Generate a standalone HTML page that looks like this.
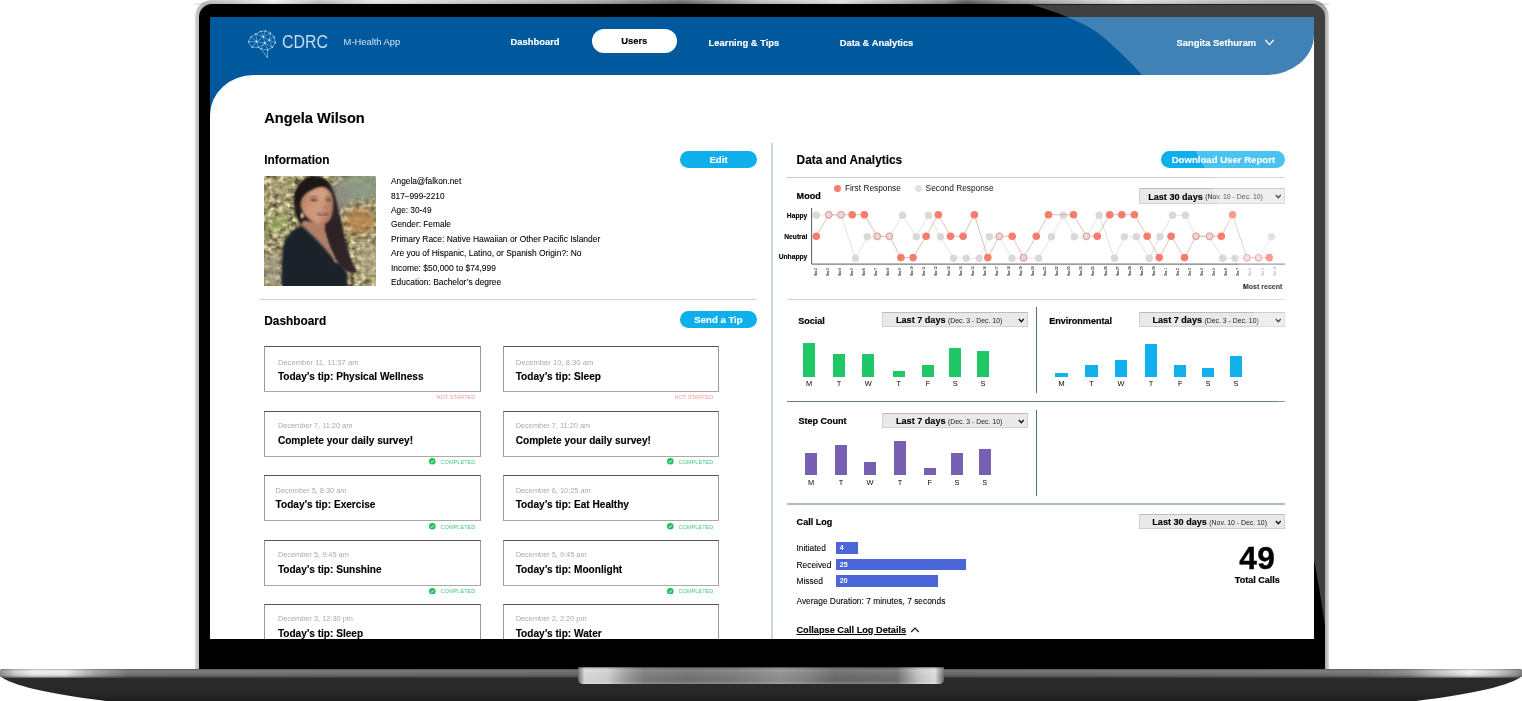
<!DOCTYPE html>
<html lang="en">
<head>
<meta charset="utf-8">
<title>CDRC M-Health App – User: Angela Wilson</title>
<style>
*{box-sizing:border-box}
html,body{margin:0;padding:0;background:#fff}
body{width:1522px;height:701px;position:relative;overflow:hidden;font-family:"Liberation Sans",sans-serif;color:#111;-webkit-font-smoothing:antialiased}
.abs,.t,.bar,.day,.card,.stat,.sel,.btn,.hl,.vl{position:absolute}
.t{line-height:0;white-space:nowrap;color:#000}
.sq{display:inline-block}
.nav,.pill,.h1,.h2,.btn,.ct,.sel b,.bd{-webkit-text-stroke:.13px currentColor}
.h3{-webkit-text-stroke:.2px currentColor}
b{font-weight:700}
/* laptop */
.lid{position:absolute;left:195px;top:0;width:1134px;height:670px;border-radius:17px 17px 0 0;background:linear-gradient(90deg,#dcdcdc 0,#bebebe .3%,#c6c6c6 3%,#efefef 7%,#bdbdbd 11%,#e6e6e6 16%,#c8c8c8 25%,#a8a8a8 35%,#6a6a6a 43%,#bdbdbd 50%,#dedede 57%,#8a8a8a 66%,#585858 68%,#8e8e8e 72%,#dcdcdc 82%,#bdbdbd 90%,#a6a6a6 99.6%,#bcbcbc 99.8%,#dadada 100%)}
.lid:before{content:"";position:absolute;left:0;right:0;top:0;height:5px;border-radius:17px 17px 0 0;background:linear-gradient(180deg,rgba(255,255,255,.22),rgba(255,255,255,0) 45%,rgba(0,0,0,.15) 100%)}
.bezel{position:absolute;left:198.6px;top:4.4px;width:1126.4px;height:665px;border-radius:13px 13px 0 0;background:#000}
.screen{position:absolute;left:209.6px;top:17px;width:1104.5px;height:621.6px;background:#fff;overflow:hidden}
.ui{position:absolute;left:-209.6px;top:-17px;width:1522px;height:701px}
.gloss{position:absolute;left:0;top:0;pointer-events:none}
/* header */
.hdrbg{position:absolute;left:209px;top:17px;width:1105.1px;height:57.5px;background:#00599c;border-bottom-right-radius:48px 40px}
.hdrcorner{position:absolute;left:209px;top:60px;width:60px;height:60px;background:#00599c}
.page{position:absolute;left:209.6px;top:74.5px;width:1105px;height:570px;background:#fff;border-top-left-radius:44px 40px}
.nav{color:#fff;font-weight:700;font-size:9.4px;margin-top:.6px}
.pill{position:absolute;left:592px;top:29.3px;width:84.6px;height:24px;border-radius:12px;background:#fff;color:#000;font-weight:700;font-size:9.4px;text-align:center;line-height:23.8px}
.h1{font-size:14.6px;font-weight:700}
.h2{font-size:11.85px;font-weight:700}
.h3{font-size:9.05px;font-weight:700}
.info{font-size:8.3px;color:#000;-webkit-text-stroke:.08px #000}
.btn{height:17.2px;border-radius:9px;background:#0eafeb;color:#fff;font-weight:700;font-size:9.6px;line-height:17.4px;text-align:center;white-space:nowrap}
.hl{height:1.2px}
.vl{width:1.2px}
/* cards */
.card{width:216.8px;height:45.6px;border:1px solid #9a9a9a;border-top-color:#555;border-bottom-color:#aaa;background:#fff}
.cd{position:absolute;font-size:7.63px;line-height:0;color:#aaa;white-space:nowrap}
.ct{position:absolute;font-size:10.1px;line-height:0;font-weight:700;color:#000;white-space:nowrap}
.stat{width:95px;height:8px;font-size:5.58px;line-height:8px;text-align:right;white-space:nowrap}
.stat span{display:inline-block}
.stat.ns{color:#f49c9c}
.stat.ok{color:#4ac981}
.stat.ok svg{position:absolute;right:39.5px;top:0.4px}
/* charts */
.bar.g{background:#20c767}
.bar.b{background:#10b1ec}
.bar.p{background:#775fb1}
.day{width:12px;text-align:center;font-size:7.4px;line-height:10px;color:#000;margin-top:.5px}
.sel{background:#e9e9e9;border:1px solid #d2d2d2;border-top-color:#bdbdbd;white-space:nowrap}
.sel .st{position:absolute;top:2.4px;bottom:0;display:flex;align-items:center;font-size:9.1px;line-height:1}
.sel .st b{font-size:9.1px;margin-right:2.4px;color:#000}
.sel .st i{font-style:normal;font-size:6.9px;color:#222;position:relative;top:.6px}
.sel .chev{position:absolute;right:2.6px;top:50%;margin-top:-1.6px}
.cl{font-size:8.4px;-webkit-text-stroke:.08px #000}
.cbar{position:absolute;left:836px;height:11.8px;background:#4b66d8;color:#fff;font-weight:700;font-size:7px;line-height:12px;padding-left:3.8px}
</style>
</head>
<body>
<div class="lid"></div>
<div class="bezel"></div>
<div class="screen"><div class="ui">
  <div class="hdrcorner"></div>
  <div class="hdrbg"></div>
  <div class="page"></div>

  <!-- header -->
  <svg class="abs" style="left:244px;top:27px" width="36" height="34" viewBox="244 27 36 34" role="img" aria-label="CDRC logo">
    <g fill="none" stroke="#a9d4fa" stroke-width="0.62" stroke-linejoin="round" stroke-linecap="round">
      <path d="M248.57 41.82 L250.99 37.04 L255.86 33.96 L260.74 31.39 L265.36 30.88 L270.50 33.19 L274.09 36.78 L275.38 42.69 L272.30 47.31 L267.67 49.88 L267.16 57.07 L261.00 48.85 L258.43 47.31 L252.27 47.16 Z"/>
      <path d="M256.63 41.66 L248.57 41.82 M256.63 41.66 L250.99 37.04 M256.63 41.66 L255.86 33.96 M256.63 41.66 L252.27 47.16 M256.63 41.66 L258.43 47.31 M256.63 41.66 L263.31 36.78 M256.63 41.66 L264.85 42.94 M263.31 36.78 L260.74 31.39 M263.31 36.78 L265.36 30.88 M263.31 36.78 L255.86 33.96 M263.31 36.78 L270.50 33.19 M263.31 36.78 L269.21 40.12 M263.31 36.78 L264.85 42.94 M264.85 42.94 L269.21 40.12 M264.85 42.94 L261.00 48.85 M264.85 42.94 L258.43 47.31 M264.85 42.94 L272.30 47.31 M264.85 42.94 L267.67 49.88 M269.21 40.12 L270.50 33.19 M269.21 40.12 L274.09 36.78 M269.21 40.12 L275.38 42.69 M269.21 40.12 L272.30 47.31 M261.00 48.85 L267.67 49.88" stroke-width="0.55"/>
    </g>
    <g fill="#e3f2ff"><circle cx="248.57" cy="41.82" r="0.6"/><circle cx="250.99" cy="37.04" r="0.6"/><circle cx="255.86" cy="33.96" r="0.6"/><circle cx="260.74" cy="31.39" r="0.6"/><circle cx="265.36" cy="30.88" r="0.6"/><circle cx="270.50" cy="33.19" r="0.6"/><circle cx="274.09" cy="36.78" r="0.6"/><circle cx="275.38" cy="42.69" r="0.6"/><circle cx="272.30" cy="47.31" r="0.6"/><circle cx="267.67" cy="49.88" r="0.6"/><circle cx="267.16" cy="57.07" r="0.6"/><circle cx="261.00" cy="48.85" r="0.6"/><circle cx="258.43" cy="47.31" r="0.6"/><circle cx="252.27" cy="47.16" r="0.6"/><circle cx="256.63" cy="41.66" r="0.8"/><circle cx="263.31" cy="36.78" r="0.8"/><circle cx="264.85" cy="42.94" r="0.8"/><circle cx="269.21" cy="40.12" r="0.8"/></g>
  </svg>
  <div class="t" style="left:281.6px;top:41.8px;font-size:18.4px;color:#c3dcf3;font-weight:400;transform:scaleX(.865);transform-origin:0 50%">CDRC</div>
  <div class="t" style="left:343.6px;top:42.4px;font-size:9.35px;color:#cfe3f5">M-Health App</div>
  <div class="t nav" style="left:510.6px;top:41.9px">Dashboard</div>
  <div class="pill"><span class="sq">Users</span></div>
  <div class="t nav" style="left:708.6px;top:42.2px">Learning &amp; Tips</div>
  <div class="t nav" style="left:839.7px;top:42.2px">Data &amp; Analytics</div>
  <div class="t nav" style="left:1176.5px;top:42.2px">Sangita Sethuram</div>
  <svg class="abs" style="left:1264px;top:38px" width="11" height="9" viewBox="0 0 11 9"><path d="M1.4 2 L5.5 6.6 L9.6 2" fill="none" stroke="#fff" stroke-width="1.25"/></svg>

  <!-- left column -->
  <div class="t h1" style="left:264.3px;top:118px">Angela Wilson</div>
  <div class="t h2" style="left:264.3px;top:160.2px">Information</div>
  <div class="btn" style="left:679.8px;top:150.6px;width:77.4px"><span class="sq">Edit</span></div>
  <svg class="abs" style="left:264px;top:175.9px" width="112" height="110.4" viewBox="12 12 688 678" preserveAspectRatio="none" role="img" aria-label="Portrait photo of Angela Wilson">
  <defs>
    <filter id="leaf" x="0" y="0" width="100%" height="100%" color-interpolation-filters="sRGB">
      <feTurbulence type="fractalNoise" baseFrequency="0.03 0.034" numOctaves="2" seed="11" result="n"/>
      <feColorMatrix in="n" type="matrix" values="1.5 0 0 0 -0.08  1.4 0 0 0 -0.07  1.2 0 0 0 -0.12  0 0 0 0 1"/>
    </filter>
    <filter id="leaf2" x="0" y="0" width="100%" height="100%" color-interpolation-filters="sRGB">
      <feTurbulence type="fractalNoise" baseFrequency="0.02 0.022" numOctaves="2" seed="3" result="n"/>
      <feColorMatrix in="n" type="matrix" values="0 0 0 0 0.5  0 0 0 0 0.56  0 0 0 0 0.25  0 4 0 0 -1.9"/>
    </filter>
    <filter id="leaf3" x="0" y="0" width="100%" height="100%" color-interpolation-filters="sRGB">
      <feTurbulence type="fractalNoise" baseFrequency="0.035 0.03" numOctaves="2" seed="29" result="n"/>
      <feColorMatrix in="n" type="matrix" values="0 0 0 0 0.36  0 0 0 0 0.3  0 0 0 0 0.22  0 0 5 0 -2.7"/>
    </filter>
    <filter id="bl5"><feGaussianBlur stdDeviation="5"/></filter>
    <filter id="bl10"><feGaussianBlur stdDeviation="10"/></filter>
    <filter id="bl28"><feGaussianBlur stdDeviation="28"/></filter>
    <clipPath id="pc"><rect x="12" y="12" width="688" height="678"/></clipPath>
    <linearGradient id="skin" x1="0" x2="1" y1="0" y2="0.3"><stop offset="0" stop-color="#a06e54"/><stop offset=".3" stop-color="#c58f72"/><stop offset=".7" stop-color="#cf9b7d"/><stop offset="1" stop-color="#b07c62"/></linearGradient>
    <linearGradient id="hairg" x1="0" x2="1" y1="0" y2="1"><stop offset="0" stop-color="#1b1514"/><stop offset=".55" stop-color="#30262a"/><stop offset="1" stop-color="#57484a"/></linearGradient>
  </defs>
  <g clip-path="url(#pc)">
    <rect x="12" y="12" width="688" height="678" fill="#aaa184"/>
    <rect x="12" y="12" width="688" height="678" filter="url(#leaf)" opacity=".85"/>
    <rect x="12" y="12" width="688" height="678" filter="url(#leaf2)" opacity=".4"/>
    <rect x="12" y="12" width="688" height="678" filter="url(#leaf3)" opacity=".35"/>
    <g filter="url(#bl28)">
      <ellipse cx="585" cy="85" rx="150" ry="85" fill="#8b9a84" opacity=".95"/>
      <ellipse cx="485" cy="140" rx="55" ry="85" fill="#8d8b88" opacity=".95"/>
      <ellipse cx="90" cy="300" rx="55" ry="60" fill="#9fae62" opacity=".8"/>
      <ellipse cx="600" cy="285" rx="95" ry="80" fill="#b8844c" opacity=".85"/>
      <ellipse cx="650" cy="520" rx="70" ry="130" fill="#b5aa88" opacity=".7"/>
      <ellipse cx="70" cy="580" rx="50" ry="110" fill="#a09a8a" opacity=".8"/>
      <ellipse cx="100" cy="90" rx="70" ry="60" fill="#b3a680" opacity=".55"/>
    </g>
    <!-- hair (back) -->
    <path filter="url(#bl5)" fill="url(#hairg)" d="M320 14 C255 16 205 70 198 150 C192 215 205 275 240 312 L300 345 L380 335 C395 390 425 470 465 550 C500 600 550 615 585 600 C550 560 525 470 505 395 C485 300 470 190 440 105 C420 50 380 12 320 14 Z"/>
    <!-- neck + chest -->
    <path filter="url(#bl5)" fill="#b17f66" d="M255 285 L385 300 L400 390 L450 545 L350 430 L235 318 Z"/>
    <!-- face -->
    <path filter="url(#bl5)" fill="url(#skin)" d="M275 100 C320 60 400 62 428 125 C445 175 440 235 418 280 C398 312 350 318 315 296 C275 270 240 235 236 185 C235 150 250 120 275 100 Z"/>
    <ellipse cx="340" cy="120" rx="55" ry="28" fill="#d9a688" opacity=".55" filter="url(#bl10)"/>
    <ellipse cx="300" cy="225" rx="30" ry="35" fill="#d29a7c" opacity=".5" filter="url(#bl10)"/>
    <!-- hairline -->
    <path filter="url(#bl5)" fill="#1e1817" d="M300 18 C245 35 205 85 200 150 C205 200 225 190 240 150 C262 115 320 80 405 62 C385 35 345 12 300 18 Z"/>
    <!-- features -->
    <ellipse cx="372" cy="246" rx="36" ry="9" fill="#7a2f2c" filter="url(#bl5)" opacity=".8"/>
    <ellipse cx="372" cy="243" rx="22" ry="3.5" fill="#f0e2d8" filter="url(#bl5)" opacity=".75"/>
    <ellipse cx="318" cy="160" rx="22" ry="6.5" fill="#2c1c19" filter="url(#bl5)" opacity=".8"/>
    <ellipse cx="408" cy="160" rx="17" ry="6.5" fill="#2c1c19" filter="url(#bl5)" opacity=".8"/>
    <ellipse cx="316" cy="140" rx="26" ry="4.5" fill="#3a2622" filter="url(#bl5)" opacity=".6"/>
    <ellipse cx="408" cy="141" rx="20" ry="4.5" fill="#3a2622" filter="url(#bl5)" opacity=".6"/>
    <ellipse cx="388" cy="205" rx="10" ry="6" fill="#8a5a48" filter="url(#bl5)" opacity=".6"/>
    <ellipse cx="246" cy="255" rx="10" ry="17" fill="#e9e0c8" filter="url(#bl5)"/>
    <!-- top -->
    <path filter="url(#bl5)" fill="#1f232c" d="M225 322 C185 345 145 375 130 440 C118 520 118 610 122 700 L528 700 L524 612 C510 578 480 552 452 542 C400 465 320 385 245 318 Z"/>
    <path filter="url(#bl5)" fill="#2d2326" opacity=".92" d="M385 335 C410 420 445 505 478 552 C505 592 550 612 585 600 C550 560 525 470 505 395 C495 350 485 300 472 250 L415 300 Z"/>
  </g>
</svg>

  <div class="t info" style="left:391px;top:181.15px">Angela@falkon.net</div>
  <div class="t info" style="left:391px;top:195.55px">817–999-2210</div>
  <div class="t info" style="left:391px;top:209.95px">Age: 30-49</div>
  <div class="t info" style="left:391px;top:224.45px">Gender: Female</div>
  <div class="t info" style="left:391px;top:238.85px;font-size:8.43px">Primary Race: Native Hawaiian or Other Pacific Islander</div>
  <div class="t info" style="left:391px;top:253.25px;font-size:8.43px">Are you of Hispanic, Latino, or Spanish Origin?: No</div>
  <div class="t info" style="left:391px;top:267.65px;font-size:8.43px">Income: $50,000 to $74,999</div>
  <div class="t info" style="left:391px;top:282.05px;font-size:8.43px">Education: Bachelor’s degree</div>
  <div class="hl" style="left:259.4px;top:298.5px;width:497.4px;height:1.8px;background:#c2dcd6"></div>
  <div class="t h2" style="left:264.3px;top:320.7px">Dashboard</div>
  <div class="btn" style="left:679.8px;top:310.7px;width:77.4px"><span class="sq">Send a Tip</span></div>
  <div class="card" style="left:264.2px;top:346.3px;width:216.8px"><div class="cd" style="left:12.7px;top:15.3px">December 11, 11:37 am</div><div class="ct" style="left:12.7px;top:29.9px">Today’s tip: Physical Wellness</div></div>
<div class="stat ns" style="left:380.3px;top:393.3px"><span>NOT STARTED</span></div>
<div class="card" style="left:503.2px;top:346.3px;width:215.8px"><div class="cd" style="left:11.5px;top:15.3px">December 10, 8:30 am</div><div class="ct" style="left:11.5px;top:29.9px">Today’s tip: Sleep</div></div>
<div class="stat ns" style="left:618.3px;top:393.3px"><span>NOT STARTED</span></div>
<div class="card" style="left:264.2px;top:411.3px;width:216.8px"><div class="cd" style="left:12.7px;top:14.1px;font-size:7.38px">December 7, 11:20 am</div><div class="ct" style="left:12.7px;top:28.7px">Complete your daily survey!</div></div>
<div class="stat ok" style="left:380.3px;top:458px"><svg viewBox="0 0 10 10" width="6.6" height="6.6"><circle cx="5" cy="5" r="5" fill="#1fbf5f"/><path d="M2.6 5.2 L4.4 6.9 L7.4 3.4" fill="none" stroke="#fff" stroke-width="1.3"/></svg><span>COMPLETED</span></div>
<div class="card" style="left:503.2px;top:411.3px;width:215.8px"><div class="cd" style="left:11.5px;top:14.1px;font-size:7.38px">December 7, 11:20 am</div><div class="ct" style="left:11.5px;top:28.7px">Complete your daily survey!</div></div>
<div class="stat ok" style="left:618.3px;top:458px"><svg viewBox="0 0 10 10" width="6.6" height="6.6"><circle cx="5" cy="5" r="5" fill="#1fbf5f"/><path d="M2.6 5.2 L4.4 6.9 L7.4 3.4" fill="none" stroke="#fff" stroke-width="1.3"/></svg><span>COMPLETED</span></div>
<div class="card" style="left:264.2px;top:475.3px;width:216.8px"><div class="cd" style="left:10.4px;top:14.5px;font-size:7.38px">December 5, 8:30 am</div><div class="ct" style="left:10.4px;top:29.1px">Today’s tip: Exercise</div></div>
<div class="stat ok" style="left:380.3px;top:522.8px"><svg viewBox="0 0 10 10" width="6.6" height="6.6"><circle cx="5" cy="5" r="5" fill="#1fbf5f"/><path d="M2.6 5.2 L4.4 6.9 L7.4 3.4" fill="none" stroke="#fff" stroke-width="1.3"/></svg><span>COMPLETED</span></div>
<div class="card" style="left:503.2px;top:475.3px;width:215.8px"><div class="cd" style="left:11.5px;top:14.5px;font-size:7.38px">December 6, 10:25 am</div><div class="ct" style="left:11.5px;top:29.1px">Today’s tip: Eat Healthy</div></div>
<div class="stat ok" style="left:618.3px;top:522.8px"><svg viewBox="0 0 10 10" width="6.6" height="6.6"><circle cx="5" cy="5" r="5" fill="#1fbf5f"/><path d="M2.6 5.2 L4.4 6.9 L7.4 3.4" fill="none" stroke="#fff" stroke-width="1.3"/></svg><span>COMPLETED</span></div>
<div class="card" style="left:264.2px;top:540.3px;width:216.8px"><div class="cd" style="left:12.7px;top:14.2px;font-size:7.38px">December 5, 9:45 am</div><div class="ct" style="left:12.7px;top:28.8px">Today’s tip: Sunshine</div></div>
<div class="stat ok" style="left:380.3px;top:587.4px"><svg viewBox="0 0 10 10" width="6.6" height="6.6"><circle cx="5" cy="5" r="5" fill="#1fbf5f"/><path d="M2.6 5.2 L4.4 6.9 L7.4 3.4" fill="none" stroke="#fff" stroke-width="1.3"/></svg><span>COMPLETED</span></div>
<div class="card" style="left:503.2px;top:540.3px;width:215.8px"><div class="cd" style="left:11.5px;top:14.2px;font-size:7.38px">December 5, 9:45 am</div><div class="ct" style="left:11.5px;top:28.8px">Today’s tip: Moonlight</div></div>
<div class="stat ok" style="left:618.3px;top:587.4px"><svg viewBox="0 0 10 10" width="6.6" height="6.6"><circle cx="5" cy="5" r="5" fill="#1fbf5f"/><path d="M2.6 5.2 L4.4 6.9 L7.4 3.4" fill="none" stroke="#fff" stroke-width="1.3"/></svg><span>COMPLETED</span></div>
<div class="card" style="left:264.2px;top:604px;width:216.8px"><div class="cd" style="left:12.7px;top:14.1px;font-size:7.38px">December 3, 12:30 pm</div><div class="ct" style="left:12.7px;top:28.7px">Today’s tip: Sleep</div></div>
<div class="stat ok" style="left:380.3px;top:651px"><svg viewBox="0 0 10 10" width="6.6" height="6.6"><circle cx="5" cy="5" r="5" fill="#1fbf5f"/><path d="M2.6 5.2 L4.4 6.9 L7.4 3.4" fill="none" stroke="#fff" stroke-width="1.3"/></svg><span>COMPLETED</span></div>
<div class="card" style="left:503.2px;top:604px;width:215.8px"><div class="cd" style="left:11.5px;top:14.1px;font-size:7.38px">December 2, 2:20 pm</div><div class="ct" style="left:11.5px;top:28.7px">Today’s tip: Water</div></div>
<div class="stat ok" style="left:618.3px;top:651px"><svg viewBox="0 0 10 10" width="6.6" height="6.6"><circle cx="5" cy="5" r="5" fill="#1fbf5f"/><path d="M2.6 5.2 L4.4 6.9 L7.4 3.4" fill="none" stroke="#fff" stroke-width="1.3"/></svg><span>COMPLETED</span></div>

  <div class="vl" style="left:771.1px;top:143.4px;height:500px;width:1.6px;background:#c9d9d5"></div>

  <!-- right column -->
  <div class="t h2" style="left:796.6px;top:160.2px">Data and Analytics</div>
  <div class="btn" style="left:1161.4px;top:150.6px;width:124px"><span class="sq">Download User Report</span></div>
  <div class="hl" style="left:787px;top:176.9px;width:498.3px;background:#bcc7d3"></div>
  <div class="abs" style="left:833.6px;top:184.5px;width:7.4px;height:7.4px;border-radius:50%;background:#f67c6b"></div>
  <div class="t" style="left:844.9px;top:188.1px;font-size:8.34px;color:#111">First Response</div>
  <div class="abs" style="left:914.6px;top:184.9px;width:7.4px;height:7.4px;border-radius:50%;background:#e2e2e2"></div>
  <div class="t" style="left:925.6px;top:188.1px;font-size:8.34px;color:#111">Second Response</div>
  <div class="t h3" style="left:796.6px;top:195.9px">Mood</div>
  <div class="sel" style="left:1139.3px;top:188px;width:145.5px;height:15.8px"><span class="st" style="left:7.9px"><b>Last 30 days</b> <i>(Nov. 10 - Dec. 10)</i></span><svg class="chev" viewBox="0 0 8 6" width="6.6" height="5"><path d="M1 1.2 L4 4.4 L7 1.2" fill="none" stroke="#111" stroke-width="1.7"/></svg></div>
  <svg class="abs" style="left:770px;top:200px" width="530" height="95" viewBox="770 200 530 95" font-family="Liberation Sans, sans-serif">
<polyline fill="none" stroke="#d9d9d9" stroke-width="0.7" points="816.3,215.3 828.8,215.3 841,215.3 855.4,258.2 867.3,236.8 877.2,236.8 889.5,236.8 902.6,215.3 916.3,236.8 928.5,215.3 940.5,236.8 953.5,258.2 966.3,258.2 979.2,258.2 989.4,236.8 999.3,236.8 1011.9,258.2 1023.5,258.2 1038.6,258.2 1051.4,236.8 1063.3,215.3 1074.4,236.8 1086.4,236.8 1099.2,215.3 1114.4,258.2 1124.4,236.8 1136.4,236.8 1149.2,258.2 1160,236.8 1172.5,215.3 1185.5,215.3 1196,236.8 1209.6,236.8 1222.7,258.2 1235.2,258.2 1246.9,258.2 1258.5,258.2 1271.4,236.8"/>
<circle cx="816.3" cy="215.3" r="3.7" fill="#d9d9d9"/>
<circle cx="828.8" cy="215.3" r="3.7" fill="#d9d9d9"/>
<circle cx="841" cy="215.3" r="3.7" fill="#d9d9d9"/>
<circle cx="855.4" cy="258.2" r="3.7" fill="#d9d9d9"/>
<circle cx="867.3" cy="236.8" r="3.7" fill="#d9d9d9"/>
<circle cx="877.2" cy="236.8" r="3.7" fill="#d9d9d9"/>
<circle cx="889.5" cy="236.8" r="3.7" fill="#d9d9d9"/>
<circle cx="902.6" cy="215.3" r="3.7" fill="#d9d9d9"/>
<circle cx="916.3" cy="236.8" r="3.7" fill="#d9d9d9"/>
<circle cx="928.5" cy="215.3" r="3.7" fill="#d9d9d9"/>
<circle cx="940.5" cy="236.8" r="3.7" fill="#d9d9d9"/>
<circle cx="953.5" cy="258.2" r="3.7" fill="#d9d9d9"/>
<circle cx="966.3" cy="258.2" r="3.7" fill="#d9d9d9"/>
<circle cx="979.2" cy="258.2" r="3.7" fill="#d9d9d9"/>
<circle cx="989.4" cy="236.8" r="3.7" fill="#d9d9d9"/>
<circle cx="999.3" cy="236.8" r="3.7" fill="#d9d9d9"/>
<circle cx="1011.9" cy="258.2" r="3.7" fill="#d9d9d9"/>
<circle cx="1023.5" cy="258.2" r="3.7" fill="#d9d9d9"/>
<circle cx="1038.6" cy="258.2" r="3.7" fill="#d9d9d9"/>
<circle cx="1051.4" cy="236.8" r="3.7" fill="#d9d9d9"/>
<circle cx="1063.3" cy="215.3" r="3.7" fill="#d9d9d9"/>
<circle cx="1074.4" cy="236.8" r="3.7" fill="#d9d9d9"/>
<circle cx="1086.4" cy="236.8" r="3.7" fill="#d9d9d9"/>
<circle cx="1099.2" cy="215.3" r="3.7" fill="#d9d9d9"/>
<circle cx="1114.4" cy="258.2" r="3.7" fill="#d9d9d9"/>
<circle cx="1124.4" cy="236.8" r="3.7" fill="#d9d9d9"/>
<circle cx="1136.4" cy="236.8" r="3.7" fill="#d9d9d9"/>
<circle cx="1149.2" cy="258.2" r="3.7" fill="#d9d9d9"/>
<circle cx="1160" cy="236.8" r="3.7" fill="#d9d9d9"/>
<circle cx="1172.5" cy="215.3" r="3.7" fill="#d9d9d9"/>
<circle cx="1185.5" cy="215.3" r="3.7" fill="#d9d9d9"/>
<circle cx="1196" cy="236.8" r="3.7" fill="#d9d9d9"/>
<circle cx="1209.6" cy="236.8" r="3.7" fill="#d9d9d9"/>
<circle cx="1222.7" cy="258.2" r="3.7" fill="#d9d9d9"/>
<circle cx="1235.2" cy="258.2" r="3.7" fill="#d9d9d9"/>
<circle cx="1246.9" cy="258.2" r="3.7" fill="#d9d9d9"/>
<circle cx="1258.5" cy="258.2" r="3.7" fill="#d9d9d9"/>
<circle cx="1271.4" cy="236.8" r="3.7" fill="#d9d9d9"/>
<polyline fill="none" stroke="#c9a9a4" stroke-width="0.7" points="816.3,236.2 828.8,214.7 841,214.7 852.2,214.7 864.3,214.7 877.2,236.2 889.5,236.2 900.9,257.6 913.1,257.6 926.1,236.2 938.3,214.7 950.5,236.2 963.1,236.2 974.4,214.7 987.8,257.6 999.3,236.2 1012.2,236.2 1023.5,257.6 1036.3,236.2 1048.5,214.7 1073.5,214.7 1086.4,236.2 1097.3,236.2 1109.7,214.7 1121.8,214.7 1134.4,214.7 1147.2,236.2 1159.2,257.6 1171.1,236.2 1184.5,257.6 1196,236.2 1209.6,236.2 1221.3,236.2 1232.6,214.7 1246.9,257.6 1258.5,257.6 1269.2,257.6"/>
<circle cx="816.3" cy="236.2" r="3.8" fill="#f67c6b"/>
<circle cx="828.8" cy="214.7" r="3.3" fill="#e6d9db" stroke="#ee8a86" stroke-width="0.9"/>
<circle cx="841" cy="214.7" r="3.3" fill="#e6d9db" stroke="#ee8a86" stroke-width="0.9"/>
<circle cx="852.2" cy="214.7" r="3.8" fill="#f67c6b"/>
<circle cx="864.3" cy="214.7" r="3.8" fill="#f67c6b"/>
<circle cx="877.2" cy="236.2" r="3.3" fill="#e6d9db" stroke="#ee8a86" stroke-width="0.9"/>
<circle cx="889.5" cy="236.2" r="3.3" fill="#e6d9db" stroke="#ee8a86" stroke-width="0.9"/>
<circle cx="900.9" cy="257.6" r="3.8" fill="#f67c6b"/>
<circle cx="913.1" cy="257.6" r="3.8" fill="#f67c6b"/>
<circle cx="926.1" cy="236.2" r="3.8" fill="#f67c6b"/>
<circle cx="938.3" cy="214.7" r="3.8" fill="#f67c6b"/>
<circle cx="950.5" cy="236.2" r="3.8" fill="#f67c6b"/>
<circle cx="963.1" cy="236.2" r="3.8" fill="#f67c6b"/>
<circle cx="974.4" cy="214.7" r="3.8" fill="#f67c6b"/>
<circle cx="987.8" cy="257.6" r="3.8" fill="#f67c6b"/>
<circle cx="999.3" cy="236.2" r="3.3" fill="#e6d9db" stroke="#ee8a86" stroke-width="0.9"/>
<circle cx="1012.2" cy="236.2" r="3.8" fill="#f67c6b"/>
<circle cx="1023.5" cy="257.6" r="3.3" fill="#e6d9db" stroke="#ee8a86" stroke-width="0.9"/>
<circle cx="1036.3" cy="236.2" r="3.8" fill="#f67c6b"/>
<circle cx="1048.5" cy="214.7" r="3.8" fill="#f67c6b"/>
<circle cx="1073.5" cy="214.7" r="3.8" fill="#f67c6b"/>
<circle cx="1086.4" cy="236.2" r="3.3" fill="#e6d9db" stroke="#ee8a86" stroke-width="0.9"/>
<circle cx="1097.3" cy="236.2" r="3.8" fill="#f67c6b"/>
<circle cx="1109.7" cy="214.7" r="3.8" fill="#f67c6b"/>
<circle cx="1121.8" cy="214.7" r="3.8" fill="#f67c6b"/>
<circle cx="1134.4" cy="214.7" r="3.8" fill="#f67c6b"/>
<circle cx="1147.2" cy="236.2" r="3.8" fill="#f67c6b"/>
<circle cx="1159.2" cy="257.6" r="3.8" fill="#f67c6b"/>
<circle cx="1171.1" cy="236.2" r="3.8" fill="#f67c6b"/>
<circle cx="1184.5" cy="257.6" r="3.8" fill="#f67c6b"/>
<circle cx="1196" cy="236.2" r="3.3" fill="#e6d9db" stroke="#ee8a86" stroke-width="0.9"/>
<circle cx="1209.6" cy="236.2" r="3.3" fill="#e6d9db" stroke="#ee8a86" stroke-width="0.9"/>
<circle cx="1221.3" cy="236.2" r="3.8" fill="#f67c6b"/>
<circle cx="1232.6" cy="214.7" r="3.8" fill="#f67c6b"/>
<circle cx="1246.9" cy="257.6" r="3.3" fill="#e6d9db" stroke="#ee8a86" stroke-width="0.9"/>
<circle cx="1258.5" cy="257.6" r="3.3" fill="#e6d9db" stroke="#ee8a86" stroke-width="0.9"/>
<circle cx="1269.2" cy="257.6" r="3.8" fill="#f67c6b"/>
<path d="M811.6 208 V264.1 H1285" fill="none" stroke="#5a5a5a" stroke-width="1"/>
<text x="807.3" y="218.4" text-anchor="end" font-size="6.7" font-weight="700" fill="#000" stroke="#000" stroke-width=".12">Happy</text>
<text x="807.3" y="238.7" text-anchor="end" font-size="6.7" font-weight="700" fill="#000" stroke="#000" stroke-width=".12">Neutral</text>
<text x="807.3" y="259" text-anchor="end" font-size="6.7" font-weight="700" fill="#000" stroke="#000" stroke-width=".12">Unhappy</text>
<text transform="translate(816.7 275.8) rotate(-90)" font-size="2.85" font-weight="700" fill="#1a1a1a">Nov 2</text>
<text transform="translate(828.78 275.8) rotate(-90)" font-size="2.85" font-weight="700" fill="#1a1a1a">Nov 3</text>
<text transform="translate(840.85 275.8) rotate(-90)" font-size="2.85" font-weight="700" fill="#1a1a1a">Nov 4</text>
<text transform="translate(852.93 275.8) rotate(-90)" font-size="2.85" font-weight="700" fill="#1a1a1a">Nov 5</text>
<text transform="translate(865.01 275.8) rotate(-90)" font-size="2.85" font-weight="700" fill="#1a1a1a">Nov 6</text>
<text transform="translate(877.08 275.8) rotate(-90)" font-size="2.85" font-weight="700" fill="#1a1a1a">Nov 7</text>
<text transform="translate(889.16 275.8) rotate(-90)" font-size="2.85" font-weight="700" fill="#1a1a1a">Nov 8</text>
<text transform="translate(901.23 275.8) rotate(-90)" font-size="2.85" font-weight="700" fill="#1a1a1a">Nov 9</text>
<text transform="translate(913.31 275.8) rotate(-90)" font-size="2.85" font-weight="700" fill="#1a1a1a">Nov 10</text>
<text transform="translate(925.39 275.8) rotate(-90)" font-size="2.85" font-weight="700" fill="#1a1a1a">Nov 11</text>
<text transform="translate(937.46 275.8) rotate(-90)" font-size="2.85" font-weight="700" fill="#1a1a1a">Nov 12</text>
<text transform="translate(949.54 275.8) rotate(-90)" font-size="2.85" font-weight="700" fill="#1a1a1a">Nov 13</text>
<text transform="translate(961.62 275.8) rotate(-90)" font-size="2.85" font-weight="700" fill="#1a1a1a">Nov 14</text>
<text transform="translate(973.69 275.8) rotate(-90)" font-size="2.85" font-weight="700" fill="#1a1a1a">Nov 15</text>
<text transform="translate(985.77 275.8) rotate(-90)" font-size="2.85" font-weight="700" fill="#1a1a1a">Nov 16</text>
<text transform="translate(997.84 275.8) rotate(-90)" font-size="2.85" font-weight="700" fill="#1a1a1a">Nov 17</text>
<text transform="translate(1009.92 275.8) rotate(-90)" font-size="2.85" font-weight="700" fill="#1a1a1a">Nov 18</text>
<text transform="translate(1022 275.8) rotate(-90)" font-size="2.85" font-weight="700" fill="#1a1a1a">Nov 19</text>
<text transform="translate(1034.07 275.8) rotate(-90)" font-size="2.85" font-weight="700" fill="#1a1a1a">Nov 20</text>
<text transform="translate(1046.15 275.8) rotate(-90)" font-size="2.85" font-weight="700" fill="#1a1a1a">Nov 21</text>
<text transform="translate(1058.23 275.8) rotate(-90)" font-size="2.85" font-weight="700" fill="#1a1a1a">Nov 22</text>
<text transform="translate(1070.3 275.8) rotate(-90)" font-size="2.85" font-weight="700" fill="#1a1a1a">Nov 23</text>
<text transform="translate(1082.38 275.8) rotate(-90)" font-size="2.85" font-weight="700" fill="#1a1a1a">Nov 24</text>
<text transform="translate(1094.46 275.8) rotate(-90)" font-size="2.85" font-weight="700" fill="#1a1a1a">Nov 25</text>
<text transform="translate(1106.53 275.8) rotate(-90)" font-size="2.85" font-weight="700" fill="#1a1a1a">Nov 26</text>
<text transform="translate(1118.61 275.8) rotate(-90)" font-size="2.85" font-weight="700" fill="#1a1a1a">Nov 27</text>
<text transform="translate(1130.68 275.8) rotate(-90)" font-size="2.85" font-weight="700" fill="#1a1a1a">Nov 28</text>
<text transform="translate(1142.76 275.8) rotate(-90)" font-size="2.85" font-weight="700" fill="#1a1a1a">Nov 29</text>
<text transform="translate(1154.84 275.8) rotate(-90)" font-size="2.85" font-weight="700" fill="#1a1a1a">Nov 30</text>
<text transform="translate(1166.91 275.8) rotate(-90)" font-size="2.85" font-weight="700" fill="#1a1a1a">Dec 1</text>
<text transform="translate(1178.99 275.8) rotate(-90)" font-size="2.85" font-weight="700" fill="#1a1a1a">Dec 2</text>
<text transform="translate(1191.07 275.8) rotate(-90)" font-size="2.85" font-weight="700" fill="#1a1a1a">Dec 3</text>
<text transform="translate(1203.14 275.8) rotate(-90)" font-size="2.85" font-weight="700" fill="#1a1a1a">Dec 4</text>
<text transform="translate(1215.22 275.8) rotate(-90)" font-size="2.85" font-weight="700" fill="#1a1a1a">Dec 5</text>
<text transform="translate(1227.29 275.8) rotate(-90)" font-size="2.85" font-weight="700" fill="#1a1a1a">Dec 6</text>
<text transform="translate(1239.37 275.8) rotate(-90)" font-size="2.85" font-weight="700" fill="#1a1a1a">Dec 7</text>
<text transform="translate(1251.45 275.8) rotate(-90)" font-size="2.85" font-weight="700" fill="#9a9a9a">Dec 8</text>
<text transform="translate(1263.52 275.8) rotate(-90)" font-size="2.85" font-weight="700" fill="#9a9a9a">Dec 9</text>
<text transform="translate(1275.6 275.8) rotate(-90)" font-size="2.85" font-weight="700" fill="#9a9a9a">Dec 10</text>
<text x="1282.3" y="289.4" text-anchor="end" font-size="7" font-weight="700" fill="#000" stroke="#000" stroke-width=".12">Most recent</text>
</svg>
  <div class="hl" style="left:787px;top:298.5px;width:498.3px;height:1.8px;background:#c2dcd6"></div>

  <div class="t h3" style="left:798.2px;top:320.7px">Social</div>
  <div class="sel" style="left:882.2px;top:312px;width:145.8px;height:15px"><span class="st" style="left:12.8px"><b>Last 7 days</b> <i>(Dec. 3 - Dec. 10)</i></span><svg class="chev" viewBox="0 0 8 6" width="6.6" height="5"><path d="M1 1.2 L4 4.4 L7 1.2" fill="none" stroke="#111" stroke-width="1.7"/></svg></div>
  <div class="bar g" style="left:803.1px;top:343px;width:12.1px;height:34px"></div>
<div class="day" style="left:803.15px;top:378.9px">M</div>
<div class="bar g" style="left:833px;top:354px;width:12.1px;height:23px"></div>
<div class="day" style="left:833.05px;top:378.9px">T</div>
<div class="bar g" style="left:862.2px;top:354px;width:11.9px;height:23px"></div>
<div class="day" style="left:862.15px;top:378.9px">W</div>
<div class="bar g" style="left:892.6px;top:370.7px;width:12.1px;height:6.3px"></div>
<div class="day" style="left:892.65px;top:378.9px">T</div>
<div class="bar g" style="left:921.8px;top:365.2px;width:12.2px;height:11.8px"></div>
<div class="day" style="left:921.9px;top:378.9px">F</div>
<div class="bar g" style="left:949.1px;top:347.6px;width:12.1px;height:29.4px"></div>
<div class="day" style="left:949.15px;top:378.9px">S</div>
<div class="bar g" style="left:977px;top:351px;width:12px;height:26px"></div>
<div class="day" style="left:977px;top:378.9px">S</div>
  <div class="vl" style="left:1036px;top:307px;height:86px;background:#566f7c"></div>
  <div class="t h3" style="left:1049.2px;top:320.7px">Environmental</div>
  <div class="sel" style="left:1139.3px;top:312px;width:145.5px;height:15px"><span class="st" style="left:12.2px"><b>Last 7 days</b> <i>(Dec. 3 - Dec. 10)</i></span><svg class="chev" viewBox="0 0 8 6" width="6.6" height="5"><path d="M1 1.2 L4 4.4 L7 1.2" fill="none" stroke="#111" stroke-width="1.7"/></svg></div>
  <div class="bar b" style="left:1055.3px;top:372.9px;width:12.6px;height:3.9px"></div>
<div class="day" style="left:1055.6px;top:378.5px">M</div>
<div class="bar b" style="left:1085.2px;top:364.7px;width:12.5px;height:12.1px"></div>
<div class="day" style="left:1085.45px;top:378.5px">T</div>
<div class="bar b" style="left:1115.1px;top:360px;width:11.9px;height:16.8px"></div>
<div class="day" style="left:1115.05px;top:378.5px">W</div>
<div class="bar b" style="left:1145px;top:344.2px;width:12px;height:32.6px"></div>
<div class="day" style="left:1145px;top:378.5px">T</div>
<div class="bar b" style="left:1174px;top:364.7px;width:12.3px;height:12.1px"></div>
<div class="day" style="left:1174.15px;top:378.5px">F</div>
<div class="bar b" style="left:1202px;top:368px;width:12px;height:8.8px"></div>
<div class="day" style="left:1202px;top:378.5px">S</div>
<div class="bar b" style="left:1229.9px;top:356px;width:12px;height:20.8px"></div>
<div class="day" style="left:1229.9px;top:378.5px">S</div>
  <div class="hl" style="left:787px;top:400.8px;width:498.3px;background:#647f8b"></div>

  <div class="t h3" style="left:798.4px;top:420.5px">Step Count</div>
  <div class="sel" style="left:882.2px;top:413px;width:145.8px;height:14.6px"><span class="st" style="left:12.8px"><b>Last 7 days</b> <i>(Dec. 3 - Dec. 10)</i></span><svg class="chev" viewBox="0 0 8 6" width="6.6" height="5"><path d="M1 1.2 L4 4.4 L7 1.2" fill="none" stroke="#111" stroke-width="1.7"/></svg></div>
  <div class="bar p" style="left:805px;top:453.4px;width:12px;height:21.6px"></div>
<div class="day" style="left:805px;top:477.1px">M</div>
<div class="bar p" style="left:834.8px;top:445.2px;width:12.2px;height:29.8px"></div>
<div class="day" style="left:834.9px;top:477.1px">T</div>
<div class="bar p" style="left:863.9px;top:462px;width:12.1px;height:13px"></div>
<div class="day" style="left:863.95px;top:477.1px">W</div>
<div class="bar p" style="left:894.1px;top:440.8px;width:11.9px;height:34.2px"></div>
<div class="day" style="left:894.05px;top:477.1px">T</div>
<div class="bar p" style="left:923.8px;top:468px;width:12px;height:7px"></div>
<div class="day" style="left:923.8px;top:477.1px">F</div>
<div class="bar p" style="left:951px;top:453.4px;width:12.1px;height:21.6px"></div>
<div class="day" style="left:951.05px;top:477.1px">S</div>
<div class="bar p" style="left:978.5px;top:449px;width:12.3px;height:26px"></div>
<div class="day" style="left:978.65px;top:477.1px">S</div>
  <div class="vl" style="left:1036px;top:410px;height:86px;background:#566f7c"></div>
  <div class="hl" style="left:787px;top:502.9px;width:498.3px;height:2px;background:#b0bab7"></div>

  <div class="t h3" style="left:796.6px;top:521.6px">Call Log</div>
  <div class="sel" style="left:1139.3px;top:514px;width:145.5px;height:14.6px"><span class="st" style="left:12px"><b>Last 30 days</b> <i>(Nov. 10 - Dec. 10)</i></span><svg class="chev" viewBox="0 0 8 6" width="6.6" height="5"><path d="M1 1.2 L4 4.4 L7 1.2" fill="none" stroke="#111" stroke-width="1.7"/></svg></div>
  <div class="t cl" style="left:796.5px;top:547.9px">Initiated</div>
  <div class="cbar" style="top:542.1px;width:22px">4</div>
  <div class="t cl" style="left:796.5px;top:564.5px">Received</div>
  <div class="cbar" style="top:558.7px;width:129.7px">25</div>
  <div class="t cl" style="left:796.5px;top:580.9px">Missed</div>
  <div class="cbar" style="top:575px;width:101.6px">20</div>
  <div class="t cl" style="left:796.5px;top:601.1px">Average Duration: 7 minutes, 7 seconds</div>
  <div class="t" style="left:1239.2px;top:558.1px;font-size:31.6px;font-weight:700;letter-spacing:.4px;-webkit-text-stroke:.4px #000">49</div>
  <div class="t h3" style="left:1234.8px;top:580.2px">Total Calls</div>
  <div class="t bd" style="left:796.5px;top:629.5px;font-size:9.18px;font-weight:700;text-decoration:underline">Collapse Call Log Details</div>
  <svg class="abs" style="left:910px;top:626px" width="10" height="8" viewBox="0 0 10 8"><path d="M1.2 6 L5 2 L8.8 6" fill="none" stroke="#111" stroke-width="1.1"/></svg>
</div></div>

<svg class="gloss" width="1522" height="701" viewBox="0 0 1522 701">
  <defs><clipPath id="lidclip"><path d="M198.8 669 V17.6 Q198.8 4.6 211.8 4.6 H1312 Q1325 4.6 1325 17.6 V669 Z"/></clipPath></defs>
  <path clip-path="url(#lidclip)" d="M1029 4 C1032 4.92 1040.67 7.33 1047 9.5 C1053.33 11.67 1059.5 13.75 1067 17 C1074.5 20.25 1084.5 24.33 1092 29 C1099.5 33.67 1103.83 37.5 1112 45 C1120.17 52.5 1131 62.33 1141 74 C1151 85.67 1162.17 100.83 1172 115 C1181.83 129.17 1192.83 145.5 1200 159 C1207.17 172.5 1205.67 169.17 1215 196 C1224.33 222.83 1243.5 277.67 1256 320 C1268.5 362.33 1280.33 410 1290 450 C1299.67 490 1308.17 530.83 1314 560 C1319.83 589.17 1323.17 614.17 1325 625 L1326 625 L1326 0 L1029 0 Z" fill="#fff" fill-opacity=".25"/>
</svg>

<!-- base -->
<svg class="abs" style="left:0;top:660px" width="1522" height="41" viewBox="0 660 1522 41">
  <defs>
    <linearGradient id="strip" x1="0" x2="1" y1="0" y2="0">
      <stop offset="0" stop-color="#8a8a8a"/><stop offset=".01" stop-color="#cfcfcf"/><stop offset=".022" stop-color="#f0f0f0"/><stop offset=".043" stop-color="#ececec"/><stop offset=".062" stop-color="#a6a6a6"/><stop offset=".085" stop-color="#747474"/><stop offset=".3" stop-color="#6c6c6c"/><stop offset=".5" stop-color="#666"/><stop offset=".75" stop-color="#6e6e6e"/><stop offset=".9" stop-color="#747474"/><stop offset=".925" stop-color="#8c8c8c"/><stop offset=".945" stop-color="#c4c4c4"/><stop offset=".966" stop-color="#f4f4f4"/><stop offset=".982" stop-color="#d0d0d0"/><stop offset=".995" stop-color="#9a9a9a"/><stop offset="1" stop-color="#7a7a7a"/>
    </linearGradient>
    <linearGradient id="notch" x1="0" x2="1" y1="0" y2="0">
      <stop offset="0" stop-color="#6a6a6a"/><stop offset=".018" stop-color="#dcdcdc"/><stop offset=".08" stop-color="#d4d4d4"/><stop offset=".13" stop-color="#a0a0a0"/><stop offset=".18" stop-color="#7e7e7e"/><stop offset=".3" stop-color="#747474"/><stop offset=".42" stop-color="#7c7c7c"/><stop offset=".55" stop-color="#929292"/><stop offset=".62" stop-color="#868686"/><stop offset=".7" stop-color="#6c6c6c"/><stop offset=".87" stop-color="#707070"/><stop offset=".93" stop-color="#c8c8c8"/><stop offset=".975" stop-color="#e2e2e2"/><stop offset="1" stop-color="#6a6a6a"/>
    </linearGradient>
    <linearGradient id="stripv" x1="0" x2="0" y1="0" y2="1"><stop offset="0" stop-color="#000" stop-opacity=".28"/><stop offset=".3" stop-color="#fff" stop-opacity=".06"/><stop offset=".7" stop-color="#000" stop-opacity=".05"/><stop offset="1" stop-color="#000" stop-opacity=".4"/></linearGradient>
    <linearGradient id="notchv" x1="0" x2="0" y1="0" y2="1"><stop offset="0" stop-color="#000" stop-opacity=".25"/><stop offset=".2" stop-color="#fff" stop-opacity=".1"/><stop offset=".75" stop-color="#000" stop-opacity=".03"/><stop offset="1" stop-color="#fff" stop-opacity=".18"/></linearGradient>
    <linearGradient id="dark" x1="0" x2="0" y1="0" y2="1">
      <stop offset="0" stop-color="#3a3a3a"/><stop offset=".3" stop-color="#2b2b2b"/><stop offset=".8" stop-color="#272727"/><stop offset="1" stop-color="#1c1c1c"/>
    </linearGradient>
  </defs>
  <path d="M0 672 Q0 669 3 669 H1519 Q1522 669 1522 672 V676 Q1505 690 1416 701 H106 Q17 690 0 676 Z" fill="url(#dark)"/>
  <path d="M0 672 Q0 669 3 669 H1519 Q1522 669 1522 672 V676 Q1520 677.6 1516 677.6 H6 Q2 677.6 0 676 Z" fill="url(#strip)"/>
  <path d="M0 672 Q0 669 3 669 H1519 Q1522 669 1522 672 V676 Q1520 677.6 1516 677.6 H6 Q2 677.6 0 676 Z" fill="url(#stripv)"/>
  <path d="M578 667.2 H944 V679 Q944 684 938 684 H584 Q578 684 578 679 Z" fill="url(#notch)"/>
  <path d="M578 667.2 H944 V679 Q944 684 938 684 H584 Q578 684 578 679 Z" fill="url(#notchv)"/>
</svg>
</body>
</html>
